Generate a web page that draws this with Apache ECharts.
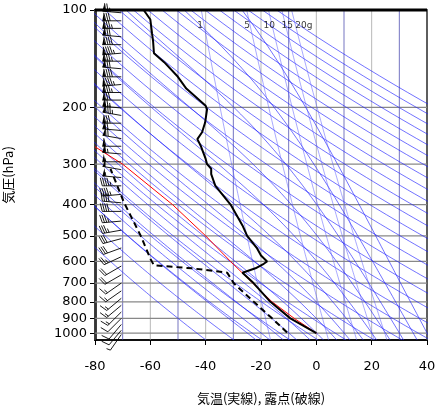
<!DOCTYPE html>
<html><head><meta charset="utf-8">
<script src="https://cdn.jsdelivr.net/npm/echarts@6/dist/echarts.min.js"></script>
<style>html,body{margin:0;background:#fff}#c{width:436px;height:411px}</style>
</head><body><div id="c"></div>
<script>
// sounding: pressure (hPa) / temperature (C)
const tempP = [1000, 900, 800, 700, 650, 630, 610, 600, 575, 547, 500, 464, 400, 350, 322, 310, 300, 289, 263, 251, 239, 223, 203, 198, 175, 160, 145, 136, 125, 118, 107, 100];
const tempT = [0, -9.4, -16.6, -22.7, -26.7, -22, -19, -17.8, -20, -21.4, -25, -26.7, -31, -36.5, -38, -38, -39.5, -40, -41.8, -43, -41.3, -40.2, -39.5, -40, -47, -50.3, -55, -58.7, -59, -59.4, -60, -62.4];
const dewP = [995, 900, 800, 700, 650, 630, 617, 588, 499, 393, 310];
const dewT = [-10.6, -16, -22.6, -29.9, -32.2, -45, -58.7, -60, -63.5, -69.6, -74.4];
const parcelP = [1000, 900, 800, 700, 600, 500, 400, 300, 265];
const parcelT = [0, -8, -16, -23, -31, -40, -52, -70, -80];
// wind barbs: pressure, speed (kt), direction (deg)
const windP = [102, 108, 114, 121, 128, 136, 144, 152, 161, 170, 180, 190, 201, 212, 224, 236, 250, 264, 279, 295, 312, 330, 350, 372, 395, 420, 450, 480, 510, 545, 580, 620, 660, 700, 740, 780, 820, 860, 900, 940, 980, 1010];
const windS = [75, 80, 85, 80, 90, 95, 85, 80, 90, 95, 85, 80, 75, 85, 80, 70, 70, 60, 65, 55, 50, 55, 45, 45, 40, 40, 35, 35, 30, 30, 25, 20, 20, 15, 15, 15, 15, 15, 10, 10, 10, 5];
const windD = [275, 270, 270, 275, 270, 265, 270, 275, 270, 265, 270, 270, 275, 280, 270, 275, 280, 270, 275, 270, 280, 275, 270, 265, 275, 270, 265, 260, 255, 250, 245, 240, 240, 235, 235, 230, 230, 225, 225, 220, 220, 215];
// background lines
const thetas = [230, 240, 250, 260, 270, 280, 290, 300, 310, 320, 330, 340, 350, 360, 370, 380, 390, 400, 410, 420, 430, 440, 450, 460, 470, 480, 490, 500];
const moistStarts = [-25, -20, -15, -10, -5, 0, 5, 10, 15, 20, 25, 30, 35, 40];
const mixRatios = [1, 5, 10, 15, 20];
const mixLabels = ['1', '5', '10', '15', '20g'];
const mixLabelT = [-42, -25, -17, -10.5, -4.5];
const pLabels = [100, 200, 300, 400, 500, 600, 700, 800, 900, 1000];

const lg = Math.log10;
const pLevels = [];
for (let p = 1050; p >= 100; p -= 10) pLevels.push(p);
const es = t => 6.112 * Math.exp(17.67 * t / (t + 243.5));
function dryLine(th) { return pLevels.map(p => [th * Math.pow(p / 1000, 0.286) - 273.15, lg(p)]); }
const mstep = (T, p, dp) => {
  const e = es(T - 273.15);
  const rs = 0.622 * e / (p - e);
  const g = (287 * T + 2.5e6 * rs) / (1004 + 2.5e6 * 2.5e6 * rs * 0.622 / (287 * T * T));
  return T + g / p * dp;
};
function moistLine(t0) {
  let T = mstep(t0 + 273.15, 1000, 50);
  const out = [];
  for (const pp of pLevels) {
    out.push([T - 273.15, lg(pp)]);
    T = mstep(T, pp, -10);
  }
  return out;
}
function mixLine(w) {
  return pLevels.map(p => {
    const e = w * p / (622 + w);
    const l = Math.log(e / 6.112);
    return [243.5 * l / (17.67 - l), lg(p)];
  });
}
const blue = 'rgba(30,30,255,0.9)';
const thin = c => ({ type: 'line', silent: true, symbol: 'none', lineStyle: { color: c, width: 0.7 }, z: 1 });
const series = [];
for (let t = -80; t <= 40; t += 10) series.push(Object.assign(thin(t % 20 === 0 ? '#999' : '#3a3aa8'), { data: [[t, 2], [t, lg(1050)]] }));
pLabels.forEach(p => series.push(Object.assign(thin('#888'), { data: [[-80, lg(p)], [40, lg(p)]], lineStyle: { color: '#888', width: 1.2 } })));
thetas.forEach(th => series.push(Object.assign(thin(blue), { data: dryLine(th) })));
moistStarts.forEach(t => series.push(Object.assign(thin(blue), { data: moistLine(t) })));
mixRatios.forEach(w => series.push(Object.assign(thin('rgba(90,90,255,0.75)'), { data: mixLine(w) })));
series.push({
  type: 'scatter', silent: true, symbolSize: 0, z: 7,
  data: mixLabels.map((t, i) => ({ value: [mixLabelT[i], lg(112)], label: { formatter: t } })),
  label: { show: true, position: 'inside', fontSize: 9, color: '#000', fontFamily: 'DejaVu Sans' }
});
series.push({ type: 'line', symbol: 'none', data: parcelP.map((p, i) => [parcelT[i], lg(p)]), lineStyle: { color: '#f00', width: 1 }, z: 3 });
series.push({ type: 'line', symbol: 'none', data: dewP.map((p, i) => [dewT[i], lg(p)]), lineStyle: { color: '#000', width: 2, type: [6, 4] }, z: 4 });
series.push({ type: 'line', symbol: 'none', data: tempP.map((p, i) => [tempT[i], lg(p)]), lineStyle: { color: '#000', width: 2 }, z: 5 });
series.push({
  type: 'custom', z: 6, clip: false,
  data: windP.map((p, i) => [-70.5, lg(p), windS[i], windD[i]]),
  renderItem: (params, api) => {
    const o = api.coord([api.value(0), api.value(1)]);
    const sp = api.value(2), d = api.value(3) * Math.PI / 180;
    const L = 19, dx = Math.sin(d), dy = -Math.cos(d);
    const ex = o[0] + dx * L, ey = o[1] + dy * L;
    const px = -dy, py = dx;
    const st = { stroke: '#000', lineWidth: 0.9 };
    const kids = [{ type: 'line', shape: { x1: o[0], y1: o[1], x2: ex, y2: ey }, style: st }];
    let s = sp, pos = 0;
    while (s >= 50) {
      const bx = ex - dx * pos, by = ey - dy * pos;
      kids.push({ type: 'polygon', shape: { points: [[bx, by], [bx + px * 8 - dx * 1.5, by + py * 8 - dy * 1.5], [bx - dx * 3, by - dy * 3]] }, style: { fill: '#000' } });
      s -= 50; pos += 3.5;
    }
    while (s >= 10) {
      const bx = ex - dx * pos, by = ey - dy * pos;
      kids.push({ type: 'line', shape: { x1: bx, y1: by, x2: bx + px * 8 + dx * 2, y2: by + py * 8 + dy * 2 }, style: st });
      s -= 10; pos += 2.2;
    }
    if (s >= 5) {
      const bx = ex - dx * pos, by = ey - dy * pos;
      kids.push({ type: 'line', shape: { x1: bx, y1: by, x2: bx + px * 4 + dx, y2: by + py * 4 + dy }, style: st });
    }
    return { type: 'group', children: kids };
  }
});

const chart = echarts.init(document.getElementById('c'));
chart.setOption({
  animation: false,
  grid: { left: 95, right: 9, top: 10, bottom: 71, outerBoundsMode: 'none', show: true, borderColor: '#000', borderWidth: 1.5 },
  xAxis: {
    type: 'value', min: -80, max: 40, interval: 20,
    splitLine: { show: false },
    axisLine: { onZero: false, lineStyle: { color: '#000', width: 1.5 } },
    axisTick: { length: 5, lineStyle: { color: '#000' } },
    axisLabel: { color: '#000', fontSize: 13, fontFamily: 'DejaVu Sans', margin: 20 },
    name: '気温(実線), 露点(破線)', nameLocation: 'middle', nameGap: 52,
    nameTextStyle: { color: '#000', fontSize: 13, fontFamily: 'Noto Sans CJK JP' }
  },
  yAxis: {
    type: 'value', inverse: true, min: 2, max: lg(1050),
    splitLine: { show: false },
    axisLine: { onZero: false, lineStyle: { color: '#000', width: 2.5 } },
    axisTick: { customValues: pLabels.map(lg), length: 5, lineStyle: { color: '#000' } },
    axisLabel: { customValues: pLabels.map(lg), formatter: v => String(Math.round(Math.pow(10, v))), color: '#000', fontSize: 13, fontFamily: 'DejaVu Sans', margin: 8 },
    name: '気圧(hPa)', nameLocation: 'middle', nameGap: 80, nameRotate: 90,
    nameTextStyle: { color: '#000', fontSize: 13, fontFamily: 'Noto Sans CJK JP' }
  },
  graphic: [{ type: 'line', shape: { x1: 95, y1: 10, x2: 427, y2: 10 }, style: { stroke: '#000', lineWidth: 3 }, z: 10 }],
  series
});
</script></body></html>
